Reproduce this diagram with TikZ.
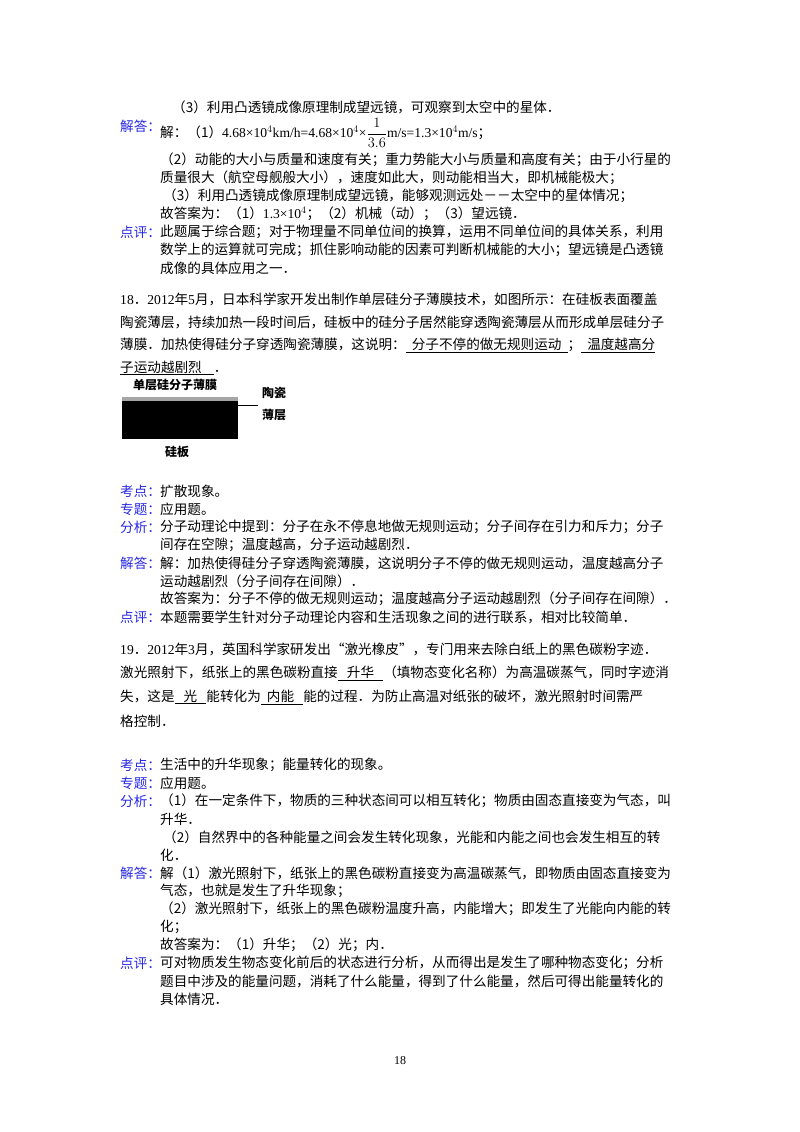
\documentclass[tikz,border=0pt]{standalone}
\usepackage{fontspec}
\setmainfont{Noto Sans CJK SC}
\newfontfamily\lat{Liberation Serif}
\definecolor{lab}{RGB}{40,40,230}
\begin{document}
\begin{tikzpicture}[x=1pt,y=-1pt,
  t/.style={anchor=west,inner sep=0pt,font=\fontsize{13.6}{16}\selectfont},
  l/.style={t,text=lab}]
\useasboundingbox (0,0) rectangle (800,1132);
\fill[white] (0,0) rectangle (800,1132);
\newcommand{\ul}[1]{\underline{#1}}
\node[t] (a1) at (172,107) {（3）利用凸透镜成像原理制成望远镜，可观察到太空中的星体．};
\node[l] (j1) at (120,126) {解答：};
\node[t] (a2) at (160,133) {解：（1）{\lat 4.68×10$^4$km/h=4.68×10$^4$×$\displaystyle\frac{1}{3.6}$m/s=1.3×10$^4$m/s}；};
\node[t] (a3) at (160,160) {（2）动能的大小与质量和速度有关；重力势能大小与质量和高度有关；由于小行星的};
\node[t] (a4) at (160,178) {质量很大（航空母舰般大小），速度如此大，则动能相当大，即机械能极大；};
\node[t] (a5) at (163,196) {（3）利用凸透镜成像原理制成望远镜，能够观测远处－－太空中的星体情况；};
\node[t] (a6) at (160,214) {故答案为：（1）{\lat 1.3×10$^4$}；（2）机械（动）；（3）望远镜．};
\node[l] (d1) at (120,232) {点评：};
\node[t] (a7) at (160,232) {此题属于综合题；对于物理量不同单位间的换算，运用不同单位间的具体关系，利用};
\node[t] (a8) at (160,250) {数学上的运算就可完成；抓住影响动能的因素可判断机械能的大小；望远镜是凸透镜};
\node[t] (a9) at (160,268) {成像的具体应用之一．};
\node[t] (q1) at (120,299) {{\lat 18}．{\lat 2012}年{\lat 5}月，日本科学家开发出制作单层硅分子薄膜技术，如图所示：在硅板表面覆盖};
\node[t] (q2) at (120,322) {陶瓷薄层，持续加热一段时间后，硅板中的硅分子居然能穿透陶瓷薄层从而形成单层硅分子};
\node[t] (q3) at (120,345) {薄膜．加热使得硅分子穿透陶瓷薄膜，这说明：\ul{\ \ 分子不停的做无规则运动\ \ }；\ul{\ \ 温度越高分}};
\node[t] (q4) at (120,368) {\ul{子运动越剧烈\ \ \ \ }．};
\node[t,font=\fontsize{12}{14}\selectfont\bfseries] (f1) at (133,385) {单层硅分子薄膜};
\fill[black] (122,397) rectangle (238,439);
\fill[gray!70] (122,397) rectangle (238,401);
\coordinate (c1) at (238,405);
\node[t,font=\fontsize{12}{14}\selectfont\bfseries] (f2) at (262,393) {陶瓷};
\node[t,font=\fontsize{12}{14}\selectfont\bfseries] (f3) at (262,415) {薄层};
\draw (c1) -- (258,405);
\node[t,font=\fontsize{12}{14}\selectfont\bfseries] (f4) at (165,452) {硅板};
\node[l] (k1) at (120,491) {考点：};\node[t] (b1) at (160,491) {扩散现象。};
\node[l] (z1) at (120,509) {专题：};\node[t] (b2) at (160,509) {应用题。};
\node[l] (f5) at (120,527) {分析：};\node[t] (b3) at (160,527) {分子动理论中提到：分子在永不停息地做无规则运动；分子间存在引力和斥力；分子};
\node[t] (b4) at (160,545) {间存在空隙；温度越高，分子运动越剧烈．};
\node[l] (j2) at (120,563) {解答：};\node[t] (b5) at (160,563) {解：加热使得硅分子穿透陶瓷薄膜，这说明分子不停的做无规则运动，温度越高分子};
\node[t] (b6) at (160,581) {运动越剧烈（分子间存在间隙）．};
\node[t] (b7) at (160,599) {故答案为：分子不停的做无规则运动；温度越高分子运动越剧烈（分子间存在间隙）．};
\node[l] (d2) at (120,617) {点评：};\node[t] (b8) at (160,617) {本题需要学生针对分子动理论内容和生活现象之间的进行联系，相对比较简单．};
\node[t] (r1) at (120,649) {{\lat 19}．{\lat 2012}年{\lat 3}月，英国科学家研发出“激光橡皮”，专门用来去除白纸上的黑色碳粉字迹．};
\node[t] (r2) at (120,673) {激光照射下，纸张上的黑色碳粉直接\ul{\ \ \ 升华\ \ \ }（填物态变化名称）为高温碳蒸气，同时字迹消};
\node[t] (r3) at (120,697) {失，这是\ul{\ \ \ 光\ \ \ }能转化为\ul{\ \ 内能\ \ \ }能的过程．为防止高温对纸张的破坏，激光照射时间需严};
\node[t] (r4) at (120,721) {格控制．};
\node[l] (k2) at (120,765) {考点：};\node[t] (c2) at (160,765) {生活中的升华现象；能量转化的现象。};
\node[l] (z2) at (120,783) {专题：};\node[t] (c3) at (160,783) {应用题。};
\node[l] (f6) at (120,801) {分析：};\node[t] (c4) at (160,801) {（1）在一定条件下，物质的三种状态间可以相互转化；物质由固态直接变为气态，叫};
\node[t] (c5) at (160,819) {升华．};
\node[t] (c6) at (163,837) {（2）自然界中的各种能量之间会发生转化现象，光能和内能之间也会发生相互的转};
\node[t] (c7) at (160,855) {化．};
\node[l] (j3) at (120,873) {解答：};\node[t] (c8) at (160,873) {解（1）激光照射下，纸张上的黑色碳粉直接变为高温碳蒸气，即物质由固态直接变为};
\node[t] (c9) at (160,891) {气态，也就是发生了升华现象；};
\node[t] (c10) at (160,909) {（2）激光照射下，纸张上的黑色碳粉温度升高，内能增大；即发生了光能向内能的转};
\node[t] (c11) at (160,927) {化；};
\node[t] (c12) at (160,945) {故答案为：（1）升华；（2）光；内．};
\node[l] (d3) at (120,963) {点评：};\node[t] (c13) at (160,963) {可对物质发生物态变化前后的状态进行分析，从而得出是发生了哪种物态变化；分析};
\node[t] (c14) at (160,981) {题目中涉及的能量问题，消耗了什么能量，得到了什么能量，然后可得出能量转化的};
\node[t] (c15) at (160,999) {具体情况．};
\node[inner sep=0pt,font=\lat\fontsize{12}{14}\selectfont] (pg) at (400,1061) {18};
\end{tikzpicture}
\end{document}
